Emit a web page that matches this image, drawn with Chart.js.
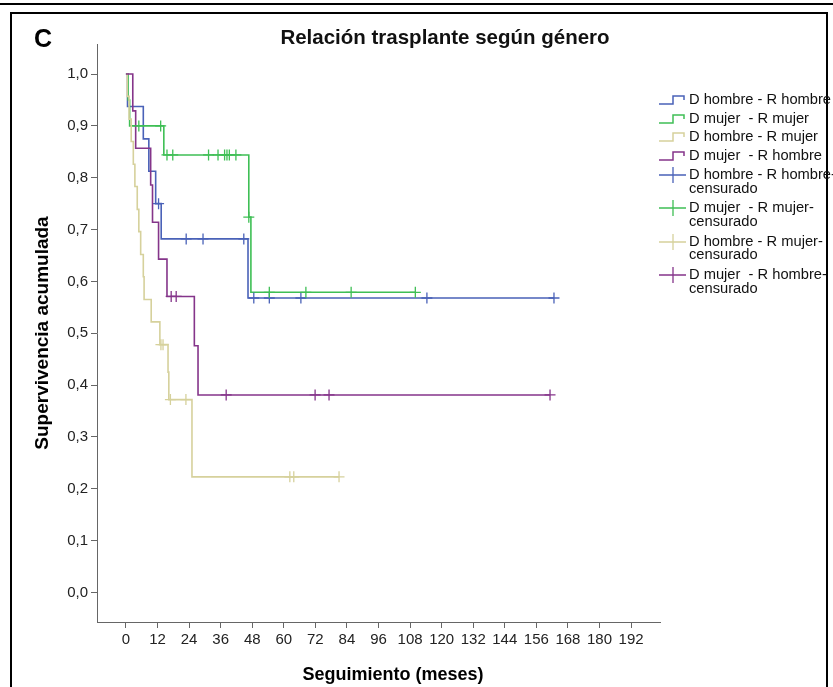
<!DOCTYPE html>
<html>
<head>
<meta charset="utf-8">
<script src="https://cdn.jsdelivr.net/npm/chart.js@4.4.0/dist/chart.umd.min.js"></script>
<style>
html,body{margin:0;padding:0;background:#fff;width:833px;height:687px;overflow:hidden;font-family:"Liberation Sans",Arial,sans-serif;}
#wrap{position:relative;width:833px;height:687px;}
#c{position:absolute;left:0;top:0;}
.topline{position:absolute;left:0;top:3px;width:833px;height:2px;background:#000;}
.box{position:absolute;left:10px;top:12px;width:818px;height:700px;border:2px solid #000;box-sizing:border-box;}
.panel{position:absolute;left:34px;top:24px;font-weight:bold;font-size:25px;color:#000;}
.title{position:absolute;left:245px;width:400px;top:25px;text-align:center;font-weight:bold;font-size:20.5px;color:#111;white-space:nowrap;}
.xtitle{position:absolute;left:243px;width:300px;top:664px;text-align:center;font-weight:bold;font-size:18px;line-height:21px;color:#000;white-space:nowrap;}
.lg{position:absolute;left:657px;font-size:14.7px;color:#111;white-space:pre;line-height:13.5px;}
.lg svg{position:absolute;left:0;}
.lg span{position:absolute;left:32px;top:0;}
</style>
</head>
<body>
<div id="wrap">
  <div class="topline"></div>
  <div class="box"></div>
  <canvas id="c" width="833" height="687"></canvas>
  <div class="panel">C</div>
  <div class="title" id="title"></div>
  <div class="xtitle" id="xtitle"></div>
  <div id="legend"></div>
</div>
<script>
// ---------- text ----------
const chartTitle = "Relación trasplante según género";
const xAxisTitle = "Seguimiento (meses)";
const yAxisTitle = "Supervivencia acumulada";
const groupNames = ["D hombre - R hombre", "D mujer  - R mujer", "D hombre - R mujer", "D mujer  - R hombre"];
const censoredWord = "censurado";

// ---------- ticks ----------
const xTickValues = [0, 12, 24, 36, 48, 60, 72, 84, 96, 108, 120, 132, 144, 156, 168, 180, 192];
const yTickValues = [0, 0.1, 0.2, 0.3, 0.4, 0.5, 0.6, 0.7, 0.8, 0.9, 1.0];
const yTickLabels = ["0,0", "0,1", "0,2", "0,3", "0,4", "0,5", "0,6", "0,7", "0,8", "0,9", "1,0"];

// ---------- D hombre - R hombre ----------
const hhTime = [0, 0.6, 6.6, 8.7, 11.3, 13.4, 46.4, 162.7];
const hhSurv = [1, 0.9375, 0.875, 0.8125, 0.75, 0.682, 0.568, 0.568];
const hhCensTime = [12.4, 22.9, 29.3, 44.8, 48.6, 54.5, 66.5, 114.4, 162.7];
const hhCensSurv = [0.75, 0.682, 0.682, 0.682, 0.568, 0.568, 0.568, 0.568, 0.568];

// ---------- D mujer - R mujer ----------
const mmTime = [0, 0.8, 1.4, 14.4, 46.7, 47.5, 110];
const mmSurv = [1, 0.95, 0.9, 0.844, 0.724, 0.579, 0.579];
const mmCensTime = [4.9, 13.2, 15.6, 17.8, 31.4, 35.0, 37.5, 38.4, 39.3, 41.8, 46.7, 54.5, 68.4, 85.6, 110];
const mmCensSurv = [0.9, 0.9, 0.844, 0.844, 0.844, 0.844, 0.844, 0.844, 0.844, 0.844, 0.724, 0.579, 0.579, 0.579, 0.579];

// ---------- D hombre - R mujer ----------
const hmTime = [0, 0.5, 1.2, 2.0, 2.8, 3.4, 4.3, 4.9, 5.6, 6.6, 6.9, 9.6, 12.9, 16.0, 16.3, 25.1, 81];
const hmSurv = [1, 0.957, 0.913, 0.870, 0.826, 0.783, 0.739, 0.696, 0.652, 0.609, 0.565, 0.522, 0.478, 0.425, 0.372, 0.223, 0.223];
const hmCensTime = [13.3, 14.1, 16.9, 22.8, 62.3, 63.8, 81];
const hmCensSurv = [0.478, 0.478, 0.372, 0.372, 0.223, 0.223, 0.223];

// ---------- D mujer - R hombre ----------
const mhTime = [0, 2.6, 3.7, 9.4, 10.1, 12.4, 15.6, 26.0, 27.4, 161.2];
const mhSurv = [1, 0.929, 0.857, 0.786, 0.714, 0.643, 0.571, 0.476, 0.381, 0.381];
const mhCensTime = [17.2, 19.1, 38.1, 71.9, 77.2, 161.2];
const mhCensSurv = [0.571, 0.571, 0.381, 0.381, 0.381, 0.381];

const colors = ["#4a62b8", "#3fbf55", "#d6d19c", "#85358a"];

const curves = [[hhTime, hhSurv], [mmTime, mmSurv], [hmTime, hmSurv], [mhTime, mhSurv]];
const cens = [[hhCensTime, hhCensSurv], [mmCensTime, mmCensSurv], [hmCensTime, hmCensSurv], [mhCensTime, mhCensSurv]];
const drawOrder = [4, 3, 2, 1];

const pts = (t, s) => t.map((v, i) => ({x: v, y: s[i]}));

const datasets = [];
curves.forEach((c, i) => {
  datasets.push({
    type: 'line', label: groupNames[i], data: pts(c[0], c[1]),
    borderColor: colors[i], borderWidth: 1.6, stepped: true,
    pointRadius: 0, fill: false, order: drawOrder[i] + 4
  });
});
cens.forEach((c, i) => {
  datasets.push({
    type: 'line', label: groupNames[i] + "-" + censoredWord, data: pts(c[0], c[1]),
    showLine: false, borderColor: colors[i], backgroundColor: colors[i],
    pointStyle: 'cross', pointRadius: 5.5, pointBorderWidth: 1.3, pointHoverRadius: 5.5,
    order: drawOrder[i]
  });
});

const tickFont = {family: "'Liberation Sans', Arial, sans-serif", size: 15};
const axisCol = '#666';

new Chart(document.getElementById('c'), {
  type: 'line',
  data: {datasets},
  options: {
    responsive: false, devicePixelRatio: 1, animation: false,
    layout: {padding: {left: 0, top: 44, right: 173, bottom: 0}},
    plugins: {legend: {display: false}, tooltip: {enabled: false}, title: {display: false}},
    scales: {
      x: {
        type: 'linear', min: -11, max: 203,
        afterBuildTicks: s => { s.ticks = xTickValues.map(v => ({value: v})); },
        afterFit: s => { s.height = 65; },
        ticks: {font: tickFont, color: '#222', padding: 3, maxRotation: 0, autoSkip: false},
        grid: {drawOnChartArea: false, drawTicks: true, tickLength: 6, color: axisCol},
        border: {display: true, color: axisCol, width: 1},
        title: {display: false}
      },
      y: {
        type: 'linear', min: -0.057, max: 1.058,
        afterBuildTicks: s => { s.ticks = yTickValues.map(v => ({value: v})); },
        afterFit: s => { s.width = 97; },
        ticks: {font: tickFont, color: '#222', padding: 3,
                callback: (v, i) => yTickLabels[i]},
        grid: {drawOnChartArea: false, drawTicks: true, tickLength: 6, color: axisCol},
        border: {display: true, color: axisCol, width: 1},
        title: {display: true, text: yAxisTitle, color: '#000',
                font: {family: "'Liberation Sans', Arial, sans-serif", size: 19, weight: 'bold'},
                padding: {top: 31, bottom: 0}}
      }
    }
  }
});

// ---------- title & legend (text) ----------
document.getElementById('title').textContent = chartTitle;
document.getElementById('xtitle').textContent = xAxisTitle;
const lg = document.getElementById('legend');
function stepIcon(col) {
  return `<svg width="30" height="14" style="top:0px"><path d="M2,11 H16 V3 H27 V7" fill="none" stroke="${col}" stroke-width="1.5"/></svg>`;
}
function crossIcon(col) {
  return `<svg width="30" height="20" style="top:-3px"><path d="M2,10 H29 M16,2 V18" fill="none" stroke="${col}" stroke-width="1.3"/></svg>`;
}
groupNames.forEach((g, i) => {
  const d = document.createElement('div');
  d.className = 'lg';
  d.style.top = (93 + i * 18.6) + 'px';
  d.innerHTML = stepIcon(colors[i]) + `<span></span>`;
  d.querySelector('span').textContent = g;
  lg.appendChild(d);
});
groupNames.forEach((g, i) => {
  const d = document.createElement('div');
  d.className = 'lg';
  d.style.top = (168 + i * 33.4) + 'px';
  d.innerHTML = crossIcon(colors[i]) + `<span></span>`;
  d.querySelector('span').textContent = g + "-\n" + censoredWord;
  lg.appendChild(d);
});
</script>
</body>
</html>
